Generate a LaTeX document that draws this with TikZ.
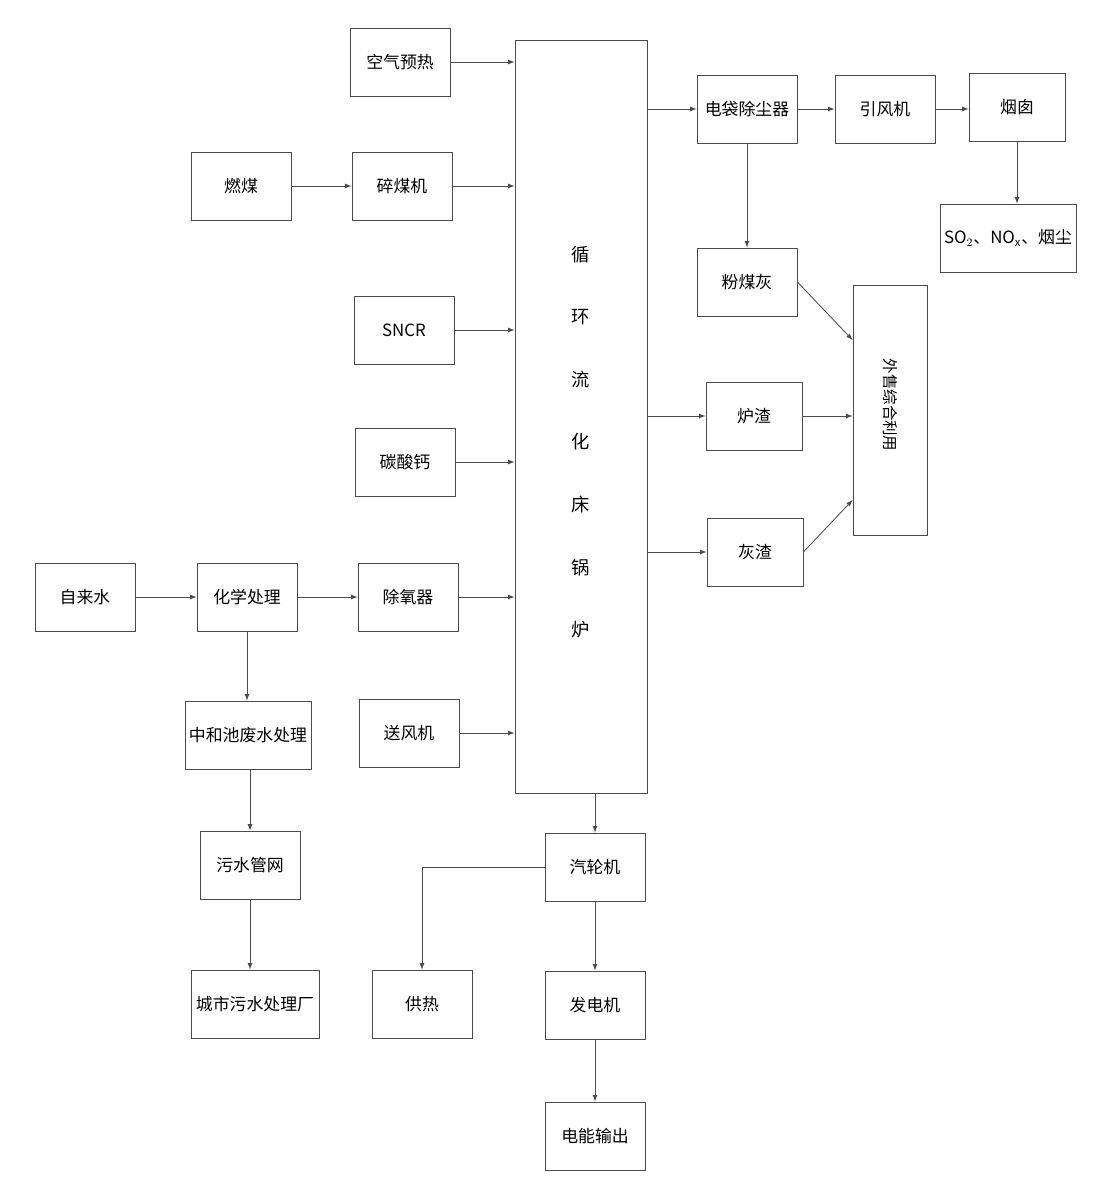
\documentclass[tikz,border=0pt]{standalone}
\usepackage{fontspec}
\setmainfont{Noto Sans CJK SC}
\usetikzlibrary{positioning, calc}

\begin{document}
\begin{tikzpicture}[x=0.025cm, y=-0.025cm,
        box/.style={draw=black!70, line width=0.6pt, minimum width=2.5cm, minimum height=1.7cm, inner sep=2pt, font=\fontsize{12}{14}\selectfont},
        flow/.style={draw=black!70, line width=0.6pt, -latex}]
        \useasboundingbox (0,0) rectangle (1097,1177);

        % --- BOILER ---
        \node[box, minimum width=3.3cm, minimum height=18.8cm] (Boiler) at (581,417) {};
        \node[align=center, font=\fontsize{13}{44.5}\selectfont] (BoilerText) at (581,442) {循\\环\\流\\化\\床\\锅\\炉};

        % --- FEED SIDE ---
        \node[box] (AirHeat) at (400,62) {空气预热};
        \node[box] (Coal) at (241,186) {燃煤};
        \node[box] (Crusher) at (402,186) {碎煤机};
        \node[box] (SNCR) at (404,330) {SNCR};
        \node[box] (Lime) at (405,462) {碳酸钙};
        \node[box] (Water) at (85,597) {自来水};
        \node[box] (Chem) at (247,597) {化学处理};
        \node[box] (Deaer) at (408,597) {除氧器};
        \node[box] (Blower) at (409,733) {送风机};

        % --- WASTE WATER ---
        \node[box, minimum width=3.15cm] (Neutral) at (248,735) {中和池废水处理};
        \node[box] (Sewer) at (250,865) {污水管网};
        \node[box, minimum width=3.2cm] (CityPlant) at (255,1004) {城市污水处理厂};

        % --- STEAM / POWER ---
        \node[box] (Turbine) at (595,867) {汽轮机};
        \node[box] (Heat) at (422,1004) {供热};
        \node[box] (Generator) at (595,1005) {发电机};
        \node[box] (Power) at (595,1136) {电能输出};

        % --- FLUE GAS / ASH ---
        \node[box] (Dust) at (747,109) {电袋除尘器};
        \node[box] (Fan) at (885,109) {引风机};
        \node[box, minimum width=2.4cm] (Stack) at (1017,107) {烟囱};
        \node[box, minimum width=3.4cm] (Emission) at (1008,238) {SO$_2$、NO$_\mathrm{x}$、烟尘};
        \node[box] (FlyAsh) at (747,282) {粉煤灰};
        \node[box, minimum width=2.4cm] (Slag) at (754,416) {炉渣};
        \node[box, minimum width=2.4cm] (BedAsh) at (755,552) {灰渣};
        \node[box, minimum width=1.85cm, minimum height=6.25cm] (Reuse) at (890,410) {};
        \node[rotate=-90, font=\fontsize{11}{13}\selectfont] (ReuseText) at (890,405) {外售综合利用};

        % --- CONNECTORS ---
        \draw[flow] (AirHeat) -- (AirHeat -| Boiler.west);
        \draw[flow] (Coal) -- (Crusher);
        \draw[flow] (Crusher) -- (Crusher -| Boiler.west);
        \draw[flow] (SNCR) -- (SNCR -| Boiler.west);
        \draw[flow] (Lime) -- (Lime -| Boiler.west);
        \draw[flow] (Water) -- (Chem);
        \draw[flow] (Chem) -- (Deaer);
        \draw[flow] (Deaer) -- (Deaer -| Boiler.west);
        \draw[flow] (Blower) -- (Blower -| Boiler.west);

        \draw[flow] (Chem) -- (Chem |- Neutral.north);
        \draw[flow] (Neutral.south -| Sewer) -- (Sewer);
        \draw[flow] (Sewer) -- (Sewer |- CityPlant.north);

        \draw[flow] (Turbine |- Boiler.south) -- (Turbine);
        \draw[flow] (Turbine.west) -| (Heat);
        \draw[flow] (Turbine) -- (Generator);
        \draw[flow] (Generator) -- (Power);

        \draw[flow] (Dust -| Boiler.east) -- (Dust);
        \draw[flow] (Dust) -- (Fan);
        \draw[flow] (Fan) -- (Fan -| Stack.west);
        \draw[flow] (Stack) -- (Stack |- Emission.north);
        \draw[flow] (Dust) -- (FlyAsh);
        \draw[flow] (Slag -| Boiler.east) -- (Slag);
        \draw[flow] (BedAsh -| Boiler.east) -- (BedAsh);

        \draw[flow] (FlyAsh.east) -- ($(Reuse.west)+(0,-70)$);
        \draw[flow] (Slag) -- (Slag -| Reuse.west);
        \draw[flow] (BedAsh.east) -- ($(Reuse.west)+(0,90)$);

    \end{tikzpicture}
\end{document}
